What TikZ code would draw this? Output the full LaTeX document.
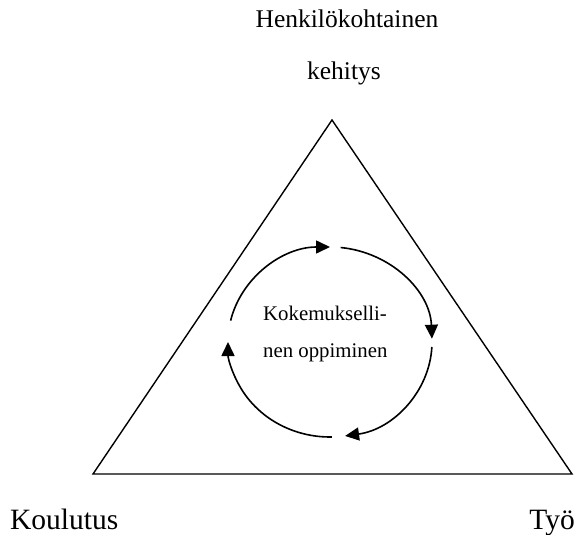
\documentclass[tikz,border=0pt]{standalone}
\usepackage{fontspec}
\setmainfont{Liberation Serif}
\usetikzlibrary{arrows.meta}
\begin{document}
\begin{tikzpicture}[x=1pt,y=-1pt]
 \tikzset{side/.style={line width=1.4pt, line join=miter}}
 \tikzset{cycle/.style={line width=1.6pt, -{Triangle[length=14pt,width=13pt]}}}
  \useasboundingbox (0,0) rectangle (576,535);
  \coordinate (T) at (332,120);
  \coordinate (L) at (93,474);
  \coordinate (R) at (572,474);
  \coordinate (C) at (330,342);
  \node[anchor=base, inner sep=0pt, font=\fontsize{25.5}{25.5}\selectfont] (D1) at (347,28) {Henkilökohtainen};
  \node[anchor=base, inner sep=0pt, font=\fontsize{25.5}{25.5}\selectfont] (D2) at (344,80) {kehitys};
  \node[anchor=base west, inner sep=0pt, font=\fontsize{29.5}{29.5}\selectfont] (K) at (10,529) {Koulutus};
  \node[anchor=base east, inner sep=0pt, font=\fontsize{29.5}{29.5}\selectfont] (W) at (575,529) {Työ};
  \node[anchor=base west, inner sep=0pt, font=\fontsize{20.8}{20.8}\selectfont] (E1) at (263,320) {Kokemukselli-};
  \node[anchor=base west, inner sep=0pt, font=\fontsize{20.8}{20.8}\selectfont] (E2) at (263,357) {nen oppiminen};
  \draw[side] (T) -- (R) -- (L) -- cycle;
  \foreach \a/\b in {193/270, 276/358, 363/441.5, 449/540}
    \draw[cycle] (C) ++(\a:102 and 95) arc[start angle=\a, end angle=\b, x radius=102, y radius=95];
\end{tikzpicture}
\end{document}
